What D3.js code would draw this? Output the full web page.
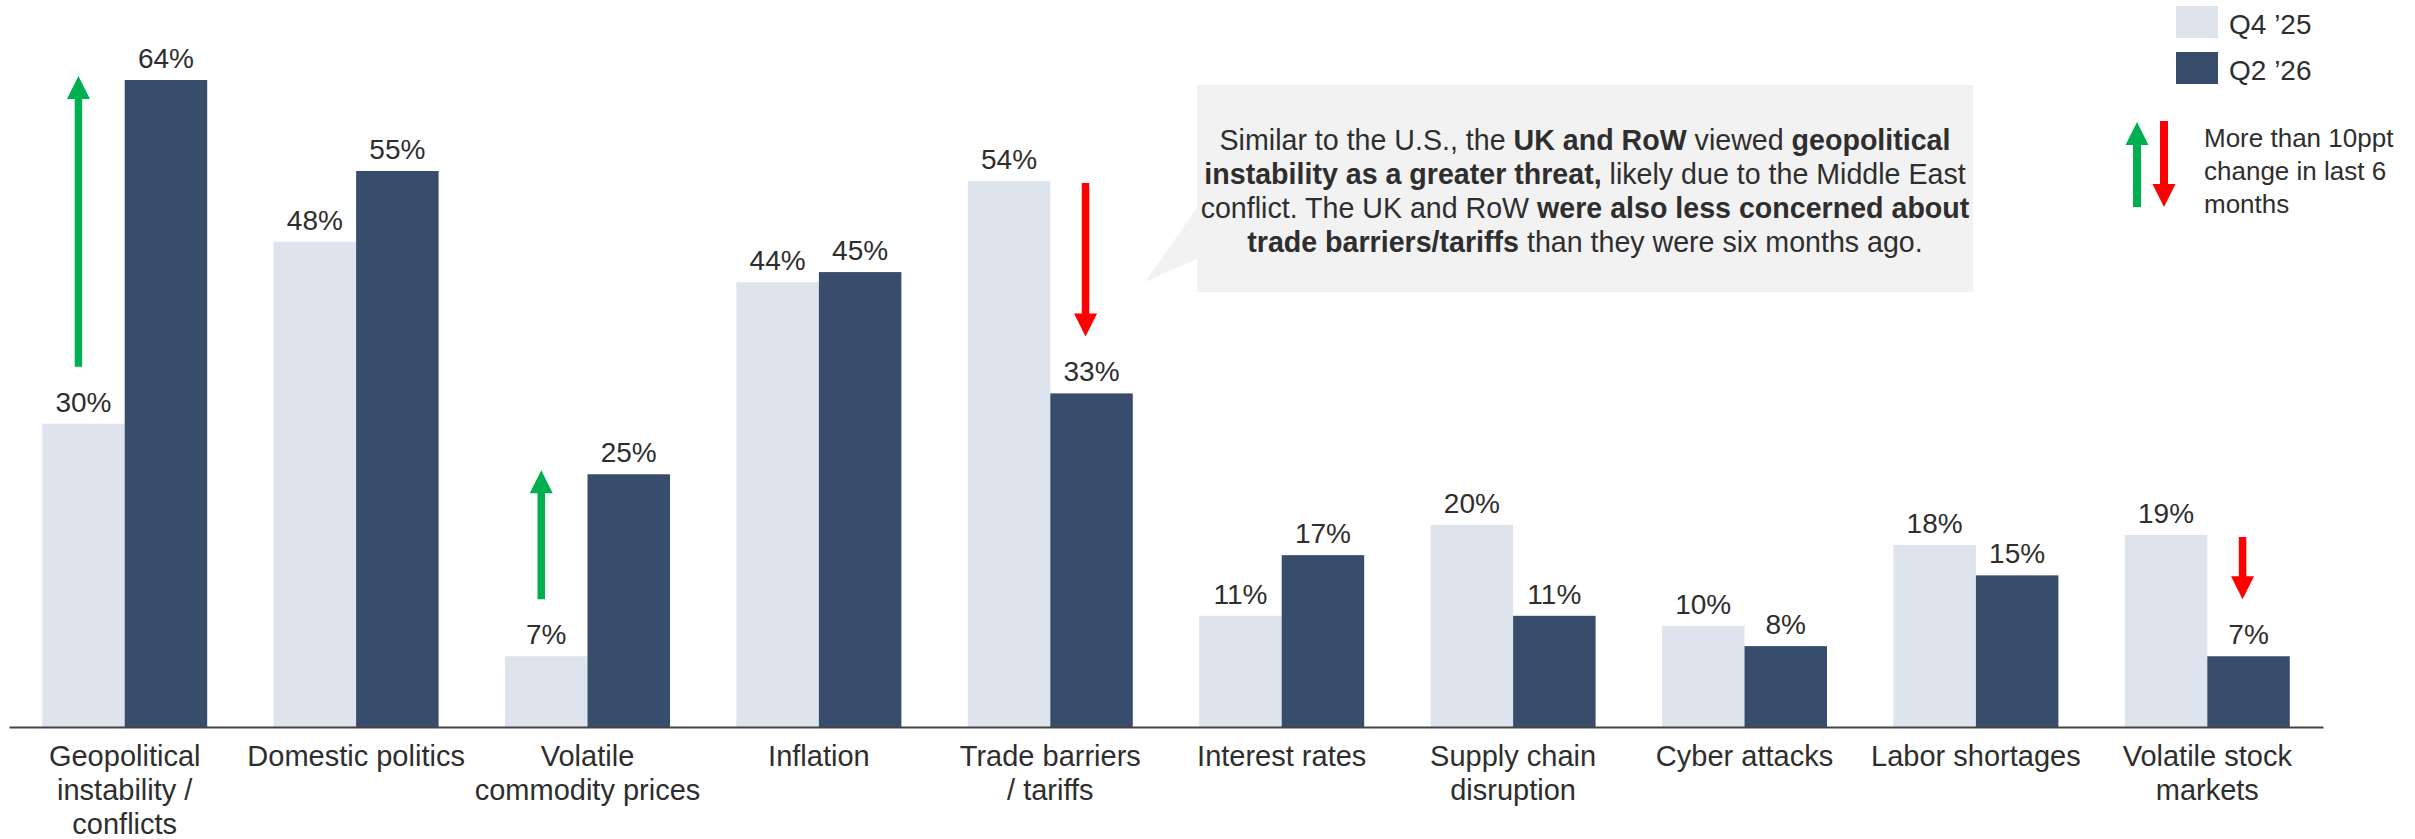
<!DOCTYPE html>
<html>
<head>
<meta charset="utf-8">
<script src="https://cdn.jsdelivr.net/npm/d3@7"></script>
<style>
  html, body { margin: 0; padding: 0; background: #ffffff; }
  svg { display: block; font-family: "Liberation Sans", Arial, Helvetica, sans-serif; }
</style>
</head>
<body>
<svg id="chart" width="2415" height="839"></svg>
<script>
// Top business risks, share of respondents
const categories = [
  "Geopolitical\ninstability /\nconflicts",
  "Domestic politics",
  "Volatile\ncommodity prices",
  "Inflation",
  "Trade barriers\n/ tariffs",
  "Interest rates",
  "Supply chain\ndisruption",
  "Cyber attacks",
  "Labor shortages",
  "Volatile stock\nmarkets"
];
const seriesNames = ["Q4 \u201925", "Q2 \u201926"];
const q4_25 = [30, 48, 7, 44, 54, 11, 20, 10, 18, 19];
const q2_26 = [64, 55, 25, 45, 33, 17, 11, 8, 15, 7];
const changeThreshold = 10; // ppt change that earns an arrow
const noteLines = ["More than 10ppt", "change in last 6", "months"];
const calloutLines = [
  [["Similar to the U.S., the ", false], ["UK and RoW", true], [" viewed ", false], ["geopolitical", true]],
  [["instability as a greater threat,", true], [" likely due to the Middle East", false]],
  [["conflict. The UK and RoW ", false], ["were also less concerned about", true]],
  [["trade barriers/tariffs", true], [" than they were six months ago.", false]]
];

const colors = { light: "#dee4ee", dark: "#384d6c", up: "#00b050", down: "#ff0000", text: "#2e2e2e", axis: "#444444", box: "#f2f2f2" };

const svg = d3.select("#chart");
const baseY = 727;

const x0 = d3.scaleBand().domain(categories).range([9, 2323]).paddingInner(0.287).paddingOuter(0.1435);
const x1 = d3.scaleBand().domain(seriesNames).range([0, x0.bandwidth()]);
const y = d3.scaleLinear().domain([0, 64]).range([baseY, 80]);
const color = d3.scaleOrdinal().domain(seriesNames).range([colors.light, colors.dark]);

const rows = categories.map((c, i) => ({ cat: c, vals: [q4_25[i], q2_26[i]] }));

// bars
const groups = svg.append("g").selectAll("g").data(rows).join("g")
  .attr("transform", d => `translate(${x0(d.cat)},0)`);

groups.selectAll("rect").data(d => d.vals.map((v, k) => ({ key: seriesNames[k], v })))
  .join("rect")
  .attr("x", d => x1(d.key))
  .attr("y", d => y(d.v))
  .attr("width", x1.bandwidth())
  .attr("height", d => baseY - y(d.v))
  .attr("fill", d => color(d.key));

// value labels
groups.selectAll("text.val").data(d => d.vals.map((v, k) => ({ key: seriesNames[k], v })))
  .join("text")
  .attr("class", "val")
  .attr("x", d => x1(d.key) + x1.bandwidth() / 2)
  .attr("y", d => y(d.v) - 12)
  .attr("text-anchor", "middle")
  .attr("font-size", 28)
  .attr("fill", colors.text)
  .text(d => d.v + "%");

// x axis
const xAxis = d3.axisBottom(x0).tickSize(0).tickPadding(0);
const axisG = svg.append("g").attr("transform", `translate(0,${baseY})`).call(xAxis);
axisG.select(".domain").attr("stroke", colors.axis).attr("stroke-width", 2.2);
axisG.selectAll(".tick text").remove();
axisG.selectAll(".tick").each(function (d) {
  const lines = d.split("\n");
  const t = d3.select(this).append("text")
    .attr("text-anchor", "middle")
    .attr("font-size", 29)
    .attr("fill", colors.text)
    .attr("font-family", "'Liberation Sans', Arial, Helvetica, sans-serif");
  lines.forEach((ln, i) => {
    t.append("tspan").attr("x", 0).attr("y", 39 + i * 34).text(ln);
  });
});

// vertical arrow helper
function arrow(g, xc, yFrom, yTo, fill, shaft, head, headLen) {
  const dir = yTo < yFrom ? -1 : 1;
  const base = yTo - dir * headLen;
  const pts = [
    [xc - shaft / 2, yFrom], [xc + shaft / 2, yFrom], [xc + shaft / 2, base],
    [xc + head / 2, base], [xc, yTo], [xc - head / 2, base], [xc - shaft / 2, base]
  ];
  g.append("polygon").attr("points", pts.map(p => p.join(",")).join(" ")).attr("fill", fill);
}

// change arrows for moves above the threshold
const arrowsG = svg.append("g");
rows.forEach(r => {
  const diff = r.vals[1] - r.vals[0];
  if (Math.abs(diff) <= changeThreshold) return;
  if (diff > 0) {
    const xc = x0(r.cat) + x1(seriesNames[0]) + x1.bandwidth() / 2 - 5;
    arrow(arrowsG, xc, y(r.vals[0]) - 57, y(r.vals[1]) - 4, colors.up, 7.5, 23, 23);
  } else {
    const xc = x0(r.cat) + x1(seriesNames[1]) + x1.bandwidth() / 2 - 6;
    arrow(arrowsG, xc, y(r.vals[0]) + 2, y(r.vals[1]) - 57, colors.down, 7.5, 23, 23);
  }
});

// callout box with pointer
const box = { x: 1197, y: 85, w: 776, h: 207 };
const callout = svg.append("g");
callout.append("polygon")
  .attr("points", [[box.x + 2, 205], [1145, 282], [box.x + 2, 258]].map(p => p.join(",")).join(" "))
  .attr("fill", colors.box);
callout.append("rect")
  .attr("x", box.x).attr("y", box.y).attr("width", box.w).attr("height", box.h)
  .attr("fill", colors.box);
calloutLines.forEach((parts, i) => {
  const t = callout.append("text")
    .attr("x", box.x + box.w / 2)
    .attr("y", 150 + i * 34)
    .attr("text-anchor", "middle")
    .attr("font-size", 28.6)
    .attr("fill", colors.text);
  parts.forEach(([s, b]) => {
    t.append("tspan").attr("font-weight", b ? "bold" : "normal").text(s);
  });
});

// legend
const legend = svg.append("g");
seriesNames.forEach((name, i) => {
  legend.append("rect")
    .attr("x", 2176).attr("y", 6 + i * 46).attr("width", 42).attr("height", 32)
    .attr("fill", color(name));
  legend.append("text")
    .attr("x", 2229).attr("y", 34 + i * 46)
    .attr("font-size", 28).attr("fill", colors.text)
    .text(name);
});
arrow(legend, 2137, 207, 122, colors.up, 8, 23, 23);
arrow(legend, 2164, 121, 207, colors.down, 8, 23, 23);
const note = legend.append("text").attr("font-size", 26).attr("fill", colors.text);
noteLines.forEach((ln, i) => {
  note.append("tspan").attr("x", 2204).attr("y", 147 + i * 33).text(ln);
});
</script>
</body>
</html>
